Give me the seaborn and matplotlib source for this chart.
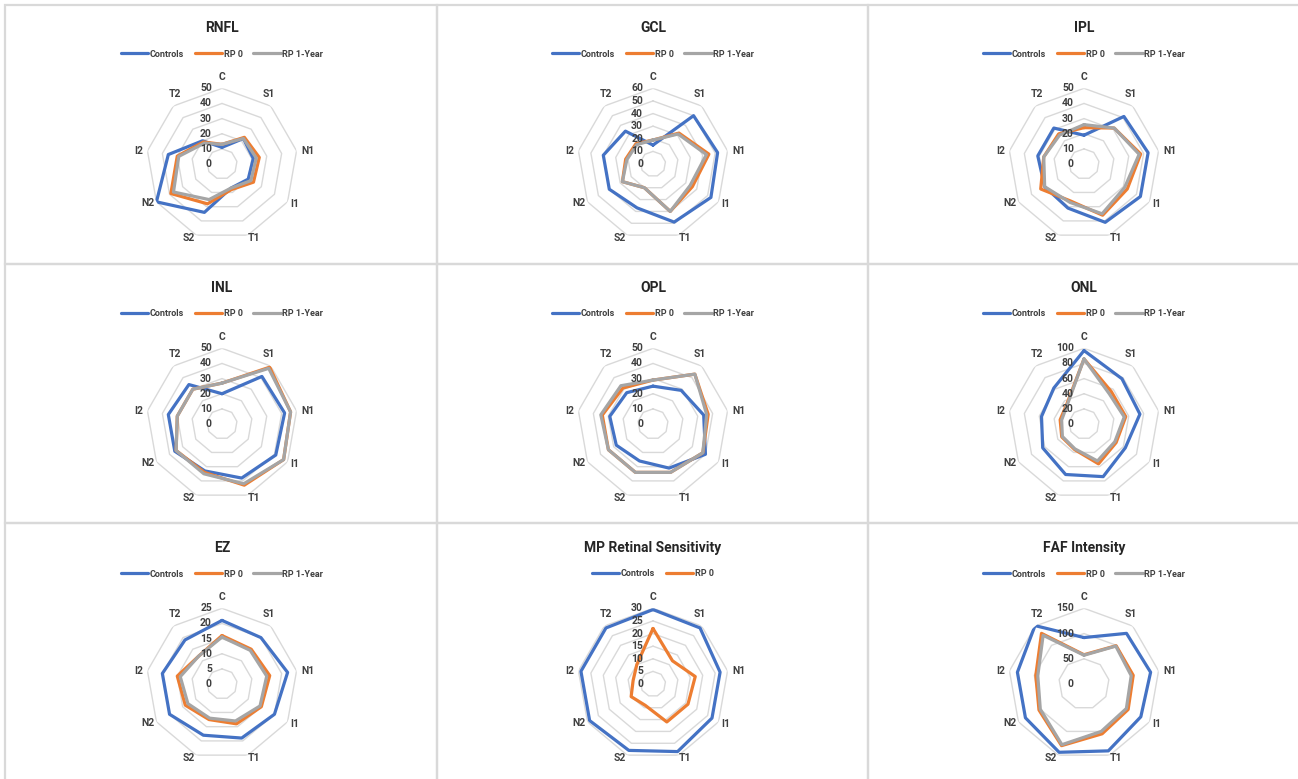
import numpy as np
import pandas as pd
import matplotlib
matplotlib.use("Agg")
import matplotlib.pyplot as plt
import matplotlib.transforms as mtransforms
from matplotlib.patches import Rectangle
import seaborn as sns

sns.set_style("white")
plt.rcParams["font.family"] = ["Roboto", "DejaVu Sans"]

# Sectors around the map, clockwise from the top
categories = ["C", "S1", "N1", "I1", "T1", "S2", "N2", "I2", "T2"]

rnfl_controls = [11, 22, 21, 20, 17, 34, 50, 36, 20]
rnfl_rp0 = [13, 23, 25, 24, 18, 28, 39, 30, 19]
rnfl_rp1 = [13, 22, 23, 22, 17, 25, 37, 29, 18]

gcl_controls = [15, 50, 52, 53, 49, 37, 40, 40, 34]
gcl_rp0 = [19, 32, 45, 36, 40, 20, 28, 22, 21]
gcl_rp1 = [19, 31, 43, 34, 40, 20, 28, 21, 20]

ipl_controls = [19, 41, 43, 43, 41, 31, 30, 31, 31]
ipl_rp0 = [24, 31, 38, 33, 36, 26, 33, 27, 26]
ipl_rp1 = [26, 31, 37, 31, 35, 27, 30, 27, 25]

inl_controls = [20, 41, 42, 41, 38, 33, 36, 36, 34]
inl_rp0 = [27, 49, 46, 47, 43, 34, 35, 30, 30]
inl_rp1 = [27, 48, 46, 47, 42, 35, 35, 30, 30]

opl_controls = [25, 29, 34, 40, 31, 26, 28, 29, 27]
opl_rp0 = [29, 43, 37, 38, 34, 34, 34, 34, 31]
opl_rp1 = [29, 43, 36, 38, 34, 34, 34, 35, 33]

onl_controls = [97, 78, 75, 63, 74, 71, 63, 57, 62]
onl_rp0 = [86, 56, 56, 49, 56, 36, 34, 32, 35]
onl_rp1 = [86, 52, 54, 47, 52, 35, 33, 30, 34]

ez_controls = [21, 20, 22, 20, 19, 18, 20, 20, 19]
ez_rp0 = [16, 15, 16, 15, 14, 12.5, 14, 15, 12]
ez_rp1 = [15.5, 14.5, 15, 14.5, 13, 12, 13, 14, 12]

mp_controls = [29.5, 29, 27, 27, 28.5, 28, 29, 29, 29]
mp_rp0 = [22, 12, 17, 16, 16, 9, 10, 8, 10]

faf_controls = [92, 131, 134, 130, 141, 144, 134, 134, 151]
faf_rp0 = [58, 99, 99, 101, 105, 130, 103, 97, 131]
faf_rp1 = [57, 98, 95, 97, 100, 128, 100, 93, 126]

panels = [
    ("RNFL", 50, 10, [("Controls", rnfl_controls), ("RP 0", rnfl_rp0), ("RP 1-Year", rnfl_rp1)]),
    ("GCL", 60, 10, [("Controls", gcl_controls), ("RP 0", gcl_rp0), ("RP 1-Year", gcl_rp1)]),
    ("IPL", 50, 10, [("Controls", ipl_controls), ("RP 0", ipl_rp0), ("RP 1-Year", ipl_rp1)]),
    ("INL", 50, 10, [("Controls", inl_controls), ("RP 0", inl_rp0), ("RP 1-Year", inl_rp1)]),
    ("OPL", 50, 10, [("Controls", opl_controls), ("RP 0", opl_rp0), ("RP 1-Year", opl_rp1)]),
    ("ONL", 100, 20, [("Controls", onl_controls), ("RP 0", onl_rp0), ("RP 1-Year", onl_rp1)]),
    ("EZ", 25, 5, [("Controls", ez_controls), ("RP 0", ez_rp0), ("RP 1-Year", ez_rp1)]),
    ("MP Retinal Sensitivity", 30, 5, [("Controls", mp_controls), ("RP 0", mp_rp0)]),
    ("FAF Intensity", 150, 50, [("Controls", faf_controls), ("RP 0", faf_rp0), ("RP 1-Year", faf_rp1)]),
]

palette = {"Controls": "#4472C4", "RP 0": "#ED7D31", "RP 1-Year": "#A5A5A5"}
text_color = "#404040"
grid_color = "#D9D9D9"

# pixel nudges of each sector label away from its outer vertex (x right, y up)
label_nudge = [(0, 11), (-2, 12), (11, 0), (7, -2), (6, -3), (-7, -3), (-9, -1), (-9, 0), (2, 12)]

W, H = 1298, 779
fig = plt.figure(figsize=(W / 100, H / 100), dpi=100)
fig.patch.set_facecolor("white")

# panel frame edges (pixels)
x_edges = [5, 437, 868, 1300]
y_edges = [5, 264, 523, 781]
for r in range(3):
    for c in range(3):
        x0, x1 = x_edges[c], x_edges[c + 1]
        y0, y1 = y_edges[r], y_edges[r + 1]
        fig.patches.append(Rectangle((x0 / W, 1 - y1 / H), (x1 - x0) / W, (y1 - y0) / H,
                                     transform=fig.transFigure, fill=False,
                                     edgecolor="#D9D9D9", linewidth=1.6, zorder=0))

centers_x = [222, 653, 1084]
centers_y = [164, 424, 684]
radius = 75.7

n = len(categories)
theta = np.linspace(0, 2 * np.pi, n, endpoint=False)
theta_closed = np.append(theta, 2 * np.pi)

for idx, (title, rmax, step, series) in enumerate(panels):
    r, c = divmod(idx, 3)
    cx, cy = centers_x[c], centers_y[r]
    ax = fig.add_axes([(cx - radius) / W, 1 - (cy + radius) / H, 2 * radius / W, 2 * radius / H],
                      projection="polar")
    ax.set_theta_offset(np.pi / 2)
    ax.set_theta_direction(-1)
    ax.set_ylim(0, rmax)
    ax.grid(False)
    ax.spines["polar"].set_visible(False)
    ax.set_xticks([])
    ax.set_yticks([])

    # polygon rings
    for v in np.arange(step, rmax + step / 2, step):
        ax.plot(theta_closed, np.full(n + 1, v), color=grid_color, linewidth=1.0, zorder=1)

    rows = []
    for name, vals in series:
        vals_closed = list(vals) + [vals[0]]
        for t, v in zip(theta_closed, vals_closed):
            rows.append({"theta": t, "value": v, "series": name})
    df = pd.DataFrame(rows)
    names = [s[0] for s in series]
    sns.lineplot(data=df, x="theta", y="value", hue="series", hue_order=names,
                 palette={k: palette[k] for k in names}, sort=False, estimator=None,
                 linewidth=2.3, ax=ax, zorder=3)
    ax.set_xlabel("")
    ax.set_ylabel("")
    ax.set_ylim(0, rmax)

    # sector labels
    for t, lab, (nx, ny) in zip(theta, categories, label_nudge):
        tr = mtransforms.offset_copy(ax.transData, fig=fig, x=nx, y=ny, units="dots")
        ax.text(t, rmax, lab, transform=tr, ha="center", va="center", fontsize=7.5,
                fontweight="bold", color=text_color)

    # value labels along the top spoke
    off = mtransforms.offset_copy(ax.transData, fig=fig, x=-10, y=0, units="dots")
    for v in np.arange(0, rmax + step / 2, step):
        ax.text(0, v, f"{int(v)}", transform=off, ha="right", va="center",
                fontsize=7.5, fontweight="bold", color=text_color)

    ax.text(0.5, 0.5 + 136 / (2 * radius), title, transform=ax.transAxes,
            ha="center", va="center", fontsize=10, fontweight="bold", color="#262626")

    leg = ax.get_legend()
    handles = leg.legend_handles
    labels = [t.get_text() for t in leg.get_texts()]
    leg.remove()
    ax.legend(handles, labels, loc="center", bbox_to_anchor=(0.5, 0.5 + 110 / (2 * radius)),
              ncol=len(labels), frameon=False, handlelength=3.0, handletextpad=0.2,
              columnspacing=1.2, prop={"weight": "bold", "size": 6.5},
              labelcolor=text_color)
    for h in ax.get_legend().legend_handles:
        h.set_linewidth(2.3)

fig.savefig("out.png", dpi=100, facecolor="white")
